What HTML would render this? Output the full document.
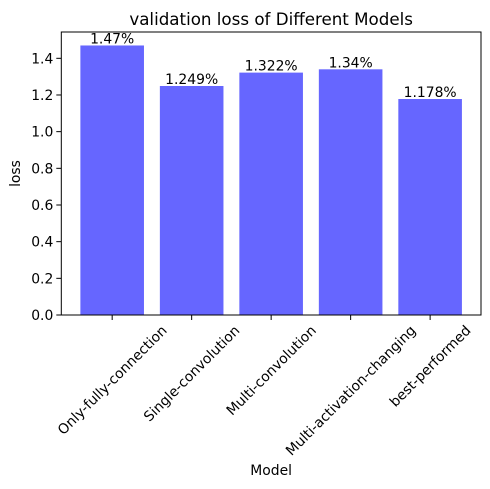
<!DOCTYPE html>
<html><head><meta charset="utf-8"><style>body{margin:0;background:#fff}svg{display:block;font-family:"DejaVu Sans","Liberation Sans",sans-serif}</style></head>
<body>
<svg id="c" width="490" height="489"></svg>
<script>
const categories=["Only-fully-connection","Single-convolution","Multi-convolution","Multi-activation-changing","best-performed"];
const lossValues=[1.47,1.249,1.322,1.34,1.178];
const valueLabels=["1.47%","1.249%","1.322%","1.34%","1.178%"];
const yTicks=[0,0.2,0.4,0.6,0.8,1.0,1.2,1.4];
const yTickLabels=["0.0","0.2","0.4","0.6","0.8","1.0","1.2","1.4"];
const svg=document.getElementById('c');const NS='http://www.w3.org/2000/svg';
const L=61.3,R=481,T=32,B=315;
const FS=13.9;
const ymax=Math.max(...lossValues)*1.05;
const xmin=-0.64,xmax=categories.length-1+0.64;
const x=v=>L+(v-xmin)/(xmax-xmin)*(R-L);
const y=v=>B-v/ymax*(B-T);
function mk(t,a,p){const e=document.createElementNS(NS,t);for(const k in a)e.setAttribute(k,a[k]);(p||svg).appendChild(e);return e;}
lossValues.forEach((v,i)=>{
 const r=mk('rect',{x:x(i-0.4),y:y(v),width:x(i+0.4)-x(i-0.4),height:B-y(v),fill:'#6666ff'});
 
 
 const t=mk('text',{x:x(i),y:y(v)-2,'text-anchor':'middle','font-size':FS});t.textContent=valueLabels[i];
 
 
 mk('line',{x1:x(i),x2:x(i),y1:B,y2:B+5,stroke:'#000','stroke-width':1});
 const lb=mk('text',{'font-size':FS,'text-anchor':'middle'});lb.textContent=categories[i];
 
 
 const w=lb.getComputedTextLength(),h=FS;
 const bh=(w+h)*0.7071;const cy=B+8+bh/2;
 lb.setAttribute('x',x(i));lb.setAttribute('y',cy+4.8);
 lb.setAttribute('transform',`rotate(-45 ${x(i)} ${cy})`);
});
yTicks.forEach((v,i)=>{
 mk('line',{x1:L-5,x2:L,y1:y(v),y2:y(v),stroke:'#000','stroke-width':1});
 const t=mk('text',{x:L-8,y:y(v)+5,'text-anchor':'end','font-size':FS});t.textContent=yTickLabels[i];
 
 
});
const f=mk('rect',{x:L,y:T,width:R-L,height:B-T,fill:'none',stroke:'#000','stroke-width':1});

const tt=mk('text',{x:(L+R)/2,y:T-7,'text-anchor':'middle','font-size':'16.7'});tt.textContent='validation loss of Different Models';

const xl=mk('text',{x:(L+R)/2,y:475,'text-anchor':'middle','font-size':FS});xl.textContent='Model';

const yl=mk('text',{x:0,y:0,'text-anchor':'middle','font-size':FS,transform:`translate(20 ${(T+B)/2}) rotate(-90)`});yl.textContent='loss';

</script>
</body></html>
